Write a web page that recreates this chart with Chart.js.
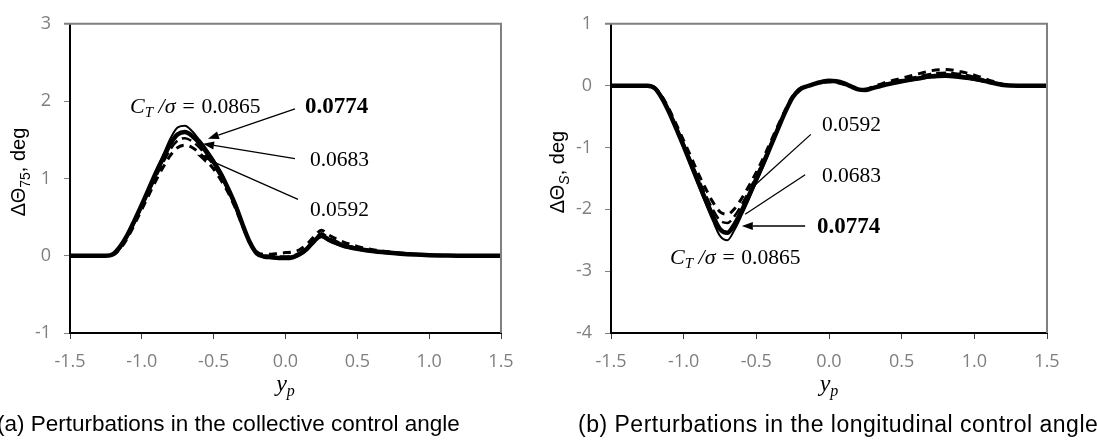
<!DOCTYPE html>
<html>
<head>
<meta charset="utf-8">
<script src="https://cdn.jsdelivr.net/npm/chart.js@4/dist/chart.umd.min.js"></script>
<style>
  body { margin: 0; background: #fff; }
  #wrap { position: relative; width: 1097px; height: 444px; overflow: hidden; }
  canvas { position: absolute; top: 0; }
  .cap { position: absolute; top: 411px; font: 22.5px "Liberation Sans", Arial, sans-serif; color: #000; white-space: nowrap; }
</style>
</head>
<body>
<div id="wrap">
  <canvas id="chartA" width="540" height="444" style="left:0"></canvas>
  <canvas id="chartB" width="557" height="444" style="left:540px"></canvas>
  <div class="cap" style="left:-3px">(a) Perturbations in the collective control angle</div>
  <div class="cap" style="left:578px; font-size:23px; letter-spacing:0.5px">(b) Perturbations in the longitudinal control angle</div>
</div>
<script>
// spanwise position y_p
const yp = [-1.5, -1.3, -1.25, -1.2, -1.15, -1.1, -1.05, -1.0, -0.95, -0.9, -0.85, -0.8, -0.75, -0.7, -0.65, -0.6, -0.55, -0.5, -0.45, -0.4, -0.35, -0.3, -0.25, -0.2, -0.15, -0.1, -0.05, 0.0, 0.05, 0.1, 0.15, 0.2, 0.25, 0.3, 0.35, 0.4, 0.5, 0.6, 0.7, 0.8, 0.9, 1.0, 1.1, 1.2, 1.3, 1.5];

const ctLabels = ["0.0865", "0.0774", "0.0683", "0.0592"];

// (a) collective, delta theta_75 (deg)
const coll0865 = [0, 0, 0, 0.02, 0.12, 0.27, 0.46, 0.67, 0.88, 1.1, 1.31, 1.52, 1.66, 1.68, 1.61, 1.5, 1.38, 1.24, 1.08, 0.89, 0.67, 0.42, 0.18, 0.03, -0.02, -0.03, -0.04, -0.04, -0.03, 0.01, 0.08, 0.18, 0.24, 0.19, 0.15, 0.12, 0.08, 0.05, 0.035, 0.02, 0.012, 0.006, 0.002, 0, 0, 0];
const coll0774 = [0, 0, 0, 0.02, 0.12, 0.27, 0.46, 0.66, 0.87, 1.08, 1.27, 1.45, 1.57, 1.6, 1.55, 1.46, 1.34, 1.21, 1.06, 0.87, 0.66, 0.41, 0.18, 0.03, -0.01, -0.02, -0.03, -0.03, -0.02, 0.02, 0.09, 0.19, 0.26, 0.21, 0.17, 0.13, 0.09, 0.06, 0.04, 0.025, 0.014, 0.007, 0.003, 0, 0, 0];
const coll0683 = [0, 0, 0, 0.01, 0.1, 0.25, 0.43, 0.63, 0.83, 1.03, 1.21, 1.38, 1.49, 1.52, 1.48, 1.4, 1.29, 1.17, 1.02, 0.85, 0.64, 0.4, 0.18, 0.04, 0.0, 0.0, -0.01, -0.01, 0.0, 0.04, 0.11, 0.21, 0.29, 0.23, 0.19, 0.15, 0.1, 0.07, 0.045, 0.03, 0.017, 0.008, 0.003, 0, 0, 0];
const coll0592 = [0, 0, 0, 0.01, 0.09, 0.23, 0.41, 0.6, 0.79, 0.98, 1.15, 1.3, 1.4, 1.43, 1.4, 1.33, 1.23, 1.12, 0.98, 0.82, 0.62, 0.39, 0.17, 0.05, 0.02, 0.02, 0.03, 0.04, 0.05, 0.08, 0.15, 0.25, 0.33, 0.27, 0.22, 0.18, 0.12, 0.08, 0.055, 0.035, 0.02, 0.01, 0.004, 0, 0, 0];

// (b) longitudinal, delta theta_S (deg)
const lon0865 = [0, 0, 0, -0.04, -0.2, -0.44, -0.71, -1.0, -1.3, -1.6, -1.9, -2.18, -2.43, -2.5, -2.33, -2.09, -1.83, -1.56, -1.29, -1.0, -0.71, -0.43, -0.19, -0.06, -0.01, 0.03, 0.06, 0.08, 0.07, 0.04, -0.01, -0.06, -0.07, -0.04, -0.01, 0.02, 0.06, 0.1, 0.13, 0.14, 0.12, 0.09, 0.05, 0.01, 0, 0];
const lon0774 = [0, 0, 0, -0.04, -0.2, -0.43, -0.7, -0.98, -1.27, -1.56, -1.84, -2.1, -2.32, -2.38, -2.24, -2.02, -1.77, -1.51, -1.25, -0.97, -0.69, -0.42, -0.19, -0.06, -0.01, 0.03, 0.06, 0.08, 0.07, 0.04, -0.01, -0.06, -0.07, -0.04, -0.01, 0.02, 0.07, 0.11, 0.15, 0.17, 0.15, 0.11, 0.06, 0.01, 0, 0];
const lon0683 = [0, 0, 0, -0.03, -0.18, -0.41, -0.67, -0.94, -1.22, -1.5, -1.76, -2.0, -2.18, -2.22, -2.11, -1.92, -1.7, -1.46, -1.21, -0.94, -0.67, -0.41, -0.18, -0.06, -0.01, 0.03, 0.06, 0.07, 0.06, 0.03, -0.01, -0.06, -0.07, -0.03, 0.0, 0.04, 0.09, 0.14, 0.19, 0.21, 0.19, 0.14, 0.07, 0.01, 0, 0];
const lon0592 = [0, 0, 0, -0.03, -0.17, -0.38, -0.63, -0.89, -1.15, -1.42, -1.66, -1.88, -2.04, -2.08, -1.99, -1.82, -1.62, -1.4, -1.16, -0.9, -0.64, -0.39, -0.17, -0.05, -0.01, 0.03, 0.05, 0.06, 0.05, 0.02, -0.02, -0.06, -0.06, -0.02, 0.02, 0.06, 0.12, 0.18, 0.24, 0.26, 0.23, 0.17, 0.09, 0.02, 0, 0];

const TICK_FONT = { family: "'Open Sans', sans-serif", size: 18 };
const SERIF = "'Liberation Serif', serif";
const SANS = "'Liberation Sans', Arial, sans-serif";

// line look per C_T/sigma
const styles = [
  { borderWidth: 2, borderDash: [] },
  { borderWidth: 4.5, borderDash: [] },
  { borderWidth: 2.5, borderDash: [10, 5] },
  { borderWidth: 3, borderDash: [8, 6] },
];

function makeSets(series) {
  return series.map((vals, i) => ({
    label: ctLabels[i],
    data: yp.map((x, k) => ({ x: x, y: vals[k] })),
    borderColor: "#000",
    borderWidth: styles[i].borderWidth,
    borderDash: styles[i].borderDash,
    pointRadius: 0,
    fill: false,
    cubicInterpolationMode: "monotone",
  }));
}

// draw text made of pieces: [text, font, dy]
function drawParts(ctx, parts, x, y) {
  let cx = x;
  ctx.textAlign = "left";
  ctx.textBaseline = "alphabetic";
  parts.forEach((p) => {
    ctx.font = p[1];
    ctx.fillText(p[0], cx, y + (p[2] || 0));
    cx += ctx.measureText(p[0]).width;
  });
}
function partsWidth(ctx, parts) {
  let w = 0;
  parts.forEach((p) => { ctx.font = p[1]; w += ctx.measureText(p[0]).width; });
  return w;
}

function ctPart(val) {
  return [
    ["C", "italic 22px " + SERIF],
    ["T", "italic 15px " + SERIF, 4],
    [" /σ = ", "italic 22px " + SERIF],
    [val, "21.5px " + SERIF],
  ];
}

function arrow(ctx, x1, y1, x2, y2, head) {
  ctx.strokeStyle = "#000";
  ctx.fillStyle = "#000";
  ctx.lineWidth = 1.3;
  const a = Math.atan2(y2 - y1, x2 - x1);
  const hl = head ? 11 : 0;
  ctx.beginPath();
  ctx.moveTo(x1, y1);
  ctx.lineTo(x2 - hl * Math.cos(a), y2 - hl * Math.sin(a));
  ctx.stroke();
  if (head) {
    ctx.beginPath();
    ctx.moveTo(x2, y2);
    ctx.lineTo(x2 - hl * Math.cos(a) + 4 * Math.sin(a), y2 - hl * Math.sin(a) - 4 * Math.cos(a));
    ctx.lineTo(x2 - hl * Math.cos(a) - 4 * Math.sin(a), y2 - hl * Math.sin(a) + 4 * Math.cos(a));
    ctx.closePath();
    ctx.fill();
  }
}

// labels and leader lines, in data coordinates
const notesA = {
  texts: [
    { x: -1.082, y: 1.85, parts: ctPart("0.0865") },
    { x: 0.135, y: 1.85, parts: [["0.0774", "bold 23px " + SERIF]] },
    { x: 0.17, y: 1.166, parts: [["0.0683", "21.5px " + SERIF]] },
    { x: 0.17, y: 0.51, parts: [["0.0592", "21.5px " + SERIF]] },
  ],
  arrows: [
    [0.066, 1.898, -0.54, 1.513, true],
    [0.066, 1.256, -0.574, 1.449, true],
    [0.087, 0.729, -0.616, 1.307, true],
  ],
  ySub: "75",
};
const notesB = {
  texts: [
    { x: -1.094, y: -2.885, parts: ctPart("0.0865") },
    { x: -0.083, y: -2.39, parts: [["0.0774", "bold 23px " + SERIF]] },
    { x: -0.049, y: -1.56, parts: [["0.0683", "21.5px " + SERIF]] },
    { x: -0.049, y: -0.733, parts: [["0.0592", "21.5px " + SERIF]] },
  ],
  arrows: [
    [-0.125, -0.788, -0.52, -1.63, false],
    [-0.164, -1.44, -0.577, -2.08, false],
    [-0.164, -2.27, -0.6, -2.27, true],
  ],
  ySub: "S",
};

const notesPlugin = {
  id: "notes",
  afterDatasetsDraw(chart, args, opts) {
    const ctx = chart.ctx;
    const xs = chart.scales.x, ys = chart.scales.y;
    const ca = chart.chartArea;
    const n = opts.notes;
    ctx.save();
    // top and right frame
    ctx.strokeStyle = "#808080";
    ctx.lineWidth = 2;
    ctx.beginPath();
    ctx.moveTo(ca.left - 6, ca.top);
    ctx.lineTo(ca.right, ca.top);
    ctx.lineTo(ca.right, ca.bottom);
    ctx.stroke();
    ctx.fillStyle = "#000";
    n.arrows.forEach((a) => {
      arrow(ctx, xs.getPixelForValue(a[0]), ys.getPixelForValue(a[1]), xs.getPixelForValue(a[2]), ys.getPixelForValue(a[3]), a[4]);
    });
    ctx.fillStyle = "#000";
    n.texts.forEach((t) => {
      drawParts(ctx, t.parts, xs.getPixelForValue(t.x), ys.getPixelForValue(t.y));
    });
    // x title
    const xt = [["y", "italic 24px " + SERIF], ["p", "italic 16px " + SERIF, 5]];
    const xc = (ca.left + ca.right) / 2;
    drawParts(ctx, xt, xc - partsWidth(ctx, xt) / 2, 391);
    // y title, rotated
    const yt = [["ΔΘ", "20px " + SANS], [n.ySub, (n.ySub === "S" ? "italic " : "") + "14px " + SANS, 5], [", deg", "20px " + SANS]];
    ctx.translate(opts.yTitleX, 172);
    ctx.rotate(-Math.PI / 2);
    drawParts(ctx, yt, -partsWidth(ctx, yt) / 2, 0);
    ctx.restore();
  },
};

function makeChart(id, series, yMin, yMax, yW, padRight, notes, yTitleX) {
  return new Chart(document.getElementById(id).getContext("2d"), {
    type: "line",
    data: { datasets: makeSets(series) },
    plugins: [notesPlugin],
    options: {
      responsive: false,
      animation: false,
      devicePixelRatio: 1,
      layout: { padding: { left: 0, right: padRight, top: 22, bottom: 0 } },
      plugins: {
        legend: { display: false },
        tooltip: { enabled: false },
        notes: { notes: notes, yTitleX: yTitleX },
      },
      scales: {
        x: {
          type: "linear",
          min: -1.5,
          max: 1.5,
          afterFit: (s) => { s.height = 111; },
          afterBuildTicks: (s) => {
            s.ticks = [-1.5, -1.0, -0.5, 0, 0.5, 1.0, 1.5].map((v) => ({ value: v }));
          },
          ticks: { callback: (v) => Number(v).toFixed(1), color: "#7f7f7f", font: TICK_FONT, padding: 12, maxRotation: 0 },
          grid: { drawOnChartArea: false, tickLength: 6, color: "#404040" },
          border: { color: "#000", width: 2 },
        },
        y: {
          min: yMin,
          max: yMax,
          afterFit: (s) => { s.width = yW; },
          ticks: { stepSize: 1, callback: (v) => String(v), color: "#7f7f7f", font: TICK_FONT, padding: 13 },
          grid: { drawOnChartArea: false, tickLength: 6, color: "#808080" },
          border: { color: "#000", width: 2 },
        },
      },
    },
  });
}

makeChart("chartA", [coll0865, coll0774, coll0683, coll0592], -1, 3, 70, 39, notesA, 25);
makeChart("chartB", [lon0865, lon0774, lon0683, lon0592], -4, 1, 71, 50, notesB, 24);
</script>
</body>
</html>
